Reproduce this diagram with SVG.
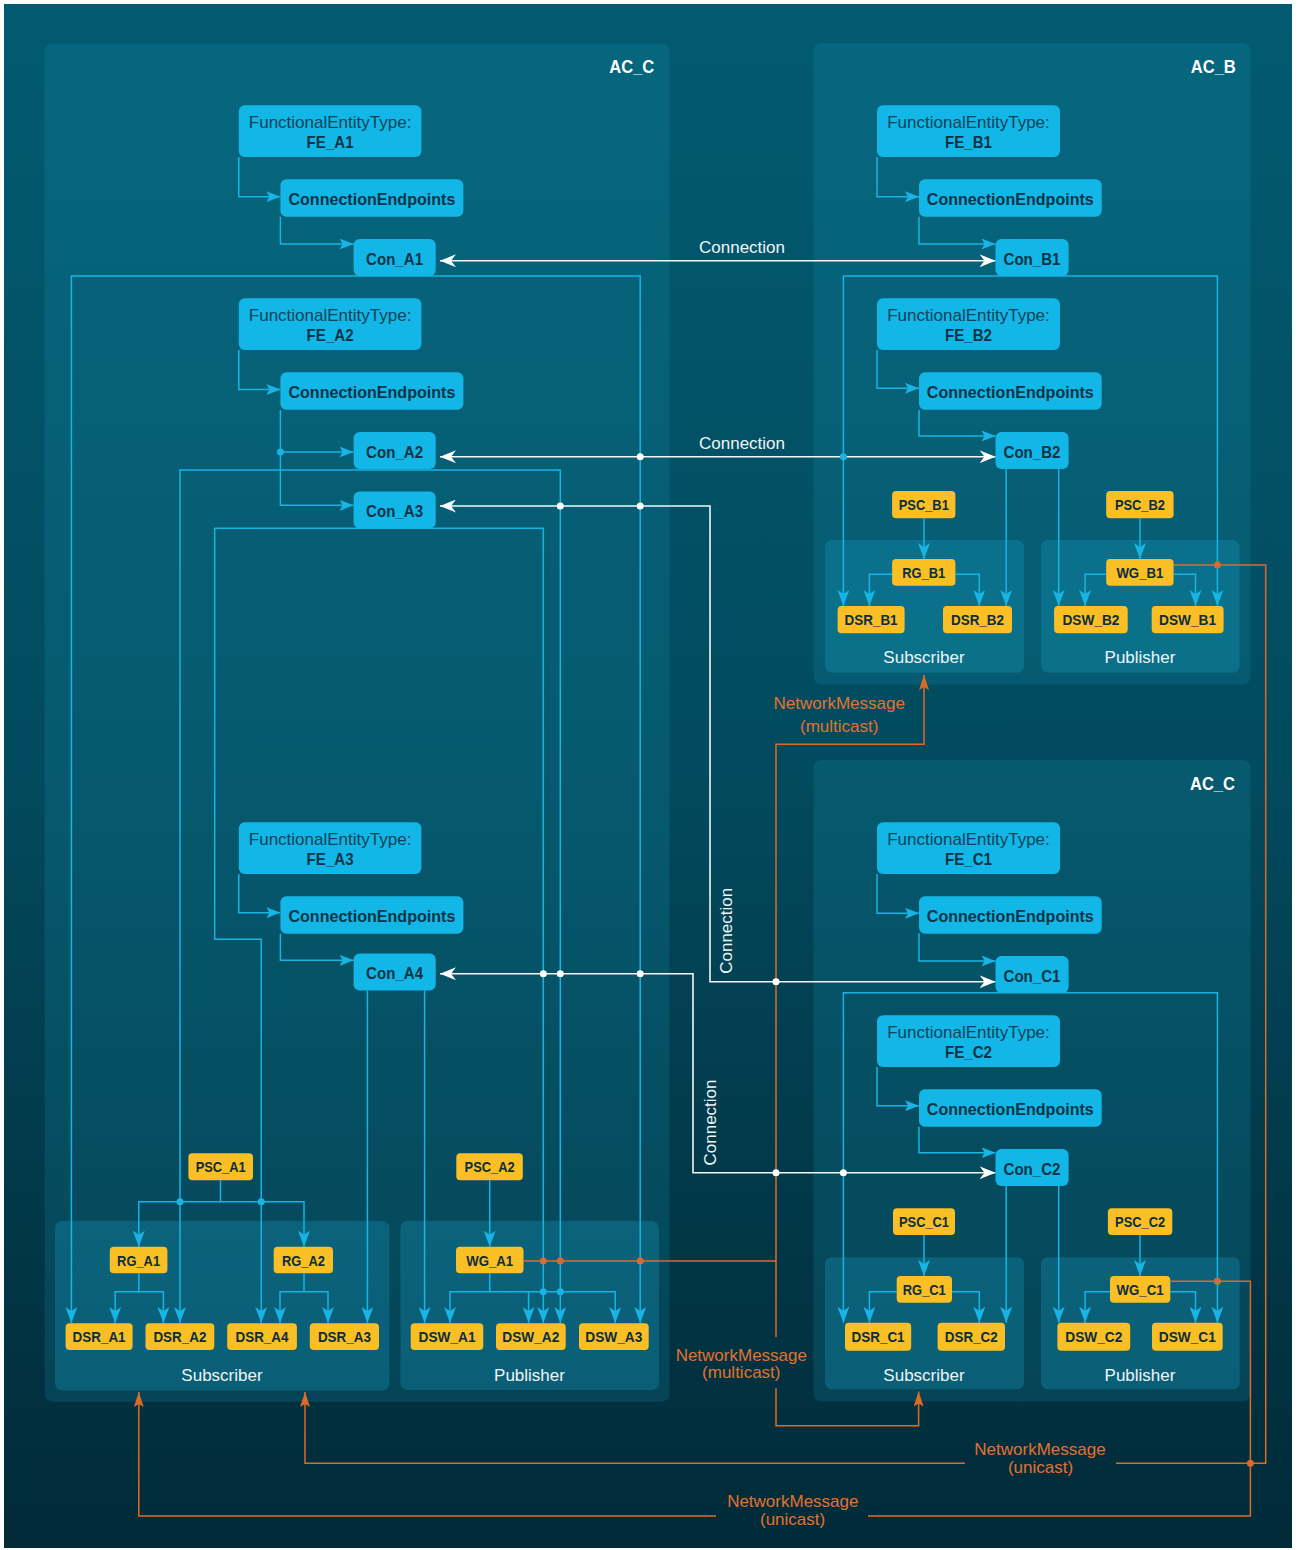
<svg xmlns="http://www.w3.org/2000/svg" width="1298" height="1550" viewBox="0 0 1298 1550">
<defs>
<linearGradient id="bgg" x1="0" y1="0" x2="0" y2="1">
<stop offset="0" stop-color="#025b71"/>
<stop offset="0.5" stop-color="#024a5d"/>
<stop offset="1" stop-color="#012a38"/>
</linearGradient>
<marker id="ab" viewBox="0 0 16 12" refX="16" refY="6" markerWidth="16" markerHeight="12" markerUnits="userSpaceOnUse" orient="auto-start-reverse"><path d="M0,0 L16,6 L0,12 L4,6 Z" fill="#17b4e4"/></marker>
<marker id="abs" viewBox="0 0 14 11" refX="14" refY="5.5" markerWidth="14" markerHeight="11" markerUnits="userSpaceOnUse" orient="auto-start-reverse"><path d="M0,0 L14,5.5 L0,11 L3,5.5 Z" fill="#17b4e4"/></marker>
<marker id="aw" viewBox="0 0 16 13" refX="16" refY="6.5" markerWidth="16" markerHeight="13" markerUnits="userSpaceOnUse" orient="auto-start-reverse"><path d="M0,0 L16,6.5 L0,13 L5,6.5 Z" fill="#ffffff"/></marker>
<marker id="ao" viewBox="0 0 15 10" refX="15" refY="5" markerWidth="15" markerHeight="10" markerUnits="userSpaceOnUse" orient="auto-start-reverse"><path d="M0,0 L15,5 L0,10 L3,5 Z" fill="#de6a28"/></marker>
</defs>
<style>
text{font-family:"Liberation Sans",Arial,sans-serif}
.ac{fill:#1c9fc0;fill-opacity:.18}
.pn{fill:#1aa8cc;fill-opacity:.27}
.bn{fill:#12b6e7}
.yn{fill:#f9bf24}
.cb{fill:none;stroke:#17b4e4;stroke-width:1.5}
.cw{fill:none;stroke:#f2f6f7;stroke-width:1.6}
.co{fill:none;stroke:#de6a28;stroke-width:1.5}
.db{fill:#17b4e4}
.dw{fill:#ffffff}
.do{fill:#de6a28}
.tfe{font-size:17px;fill:#0c4458;text-anchor:middle}
.tb{font-size:17px;font-weight:bold;fill:#0b3446;text-anchor:middle}
.ty{font-size:15.5px;font-weight:bold;fill:#0e2d3a;text-anchor:middle}
.tw{font-size:17px;fill:#eef5f7;text-anchor:middle}
.to{font-size:17px;fill:#e2712f;text-anchor:middle}
.tac{font-size:19px;font-weight:bold;fill:#ffffff;text-anchor:end}
</style>
<rect x="0" y="0" width="1298" height="1550" fill="#ffffff"/>
<rect x="4" y="4" width="1288" height="1544" fill="url(#bgg)"/>

<g id="AC_C_left">
<rect class="ac" x="44.6" y="43.7" width="625" height="1358" rx="8"/>
<text class="tac" x="654.3" y="73" textLength="45" lengthAdjust="spacingAndGlyphs">AC_C</text>
<rect class="pn" x="55" y="1221" width="334.5" height="169.5" rx="7"/>
<rect class="pn" x="400.4" y="1221" width="258.6" height="169" rx="7"/>
<text class="tw" x="222" y="1380.7">Subscriber</text>
<text class="tw" x="529.5" y="1380.7">Publisher</text>
</g>
<g id="AC_B">
<rect class="ac" x="813.5" y="43" width="437" height="641.5" rx="8"/>
<text class="tac" x="1235.8" y="73" textLength="45" lengthAdjust="spacingAndGlyphs">AC_B</text>
<rect class="pn" x="825" y="540" width="199" height="132.7" rx="7"/>
<rect class="pn" x="1041" y="540" width="198.7" height="132.7" rx="7"/>
<text class="tw" x="924" y="663.3">Subscriber</text>
<text class="tw" x="1140" y="663.3">Publisher</text>
</g>
<g id="AC_C_right">
<rect class="ac" x="813.5" y="760" width="437" height="641.5" rx="8"/>
<text class="tac" x="1235" y="790" textLength="45" lengthAdjust="spacingAndGlyphs">AC_C</text>
<rect class="pn" x="825" y="1257.3" width="199" height="132" rx="7"/>
<rect class="pn" x="1041" y="1257.3" width="198.7" height="132" rx="7"/>
<text class="tw" x="924" y="1380.7">Subscriber</text>
<text class="tw" x="1140" y="1380.7">Publisher</text>
</g>

<g id="connectors">
<path class="cb" marker-end="url(#abs)" d="M238.8,157 V196.7 H280.4"/>
<path class="cb" marker-end="url(#abs)" d="M280.4,216.7 V244 H353.6"/>
<path class="cb" marker-end="url(#abs)" d="M238.8,350 V389.5 H280.4"/>
<path class="cb" marker-end="url(#abs)" d="M280.4,410 V452 H353.6"/>
<path class="cb" marker-end="url(#abs)" d="M280.4,452 V505.3 H353.6"/>
<path class="cb" marker-end="url(#abs)" d="M238.8,874 V912.7 H280.4"/>
<path class="cb" marker-end="url(#abs)" d="M280.4,933.7 V960.3 H353.6"/>
<path class="cb" marker-end="url(#abs)" d="M877,157 V196.7 H919"/>
<path class="cb" marker-end="url(#abs)" d="M919,216.7 V244 H995.5"/>
<path class="cb" marker-end="url(#abs)" d="M877,350 V388.3 H919"/>
<path class="cb" marker-end="url(#abs)" d="M919,410 V436 H995.5"/>
<path class="cb" marker-end="url(#abs)" d="M877,874 V913.3 H919"/>
<path class="cb" marker-end="url(#abs)" d="M919,933.3 V961 H995.5"/>
<path class="cb" marker-end="url(#abs)" d="M877,1067 V1105.7 H919"/>
<path class="cb" marker-end="url(#abs)" d="M919,1126.7 V1152.7 H995.5"/>

<path class="cb" marker-start="url(#ab)" marker-end="url(#ab)" d="M71.4,1323 V276 H640.2 V1323"/>
<path class="cb" marker-start="url(#ab)" marker-end="url(#ab)" d="M180,1323 V470 H560.3 V1323"/>
<path class="cb" marker-start="url(#ab)" marker-end="url(#ab)" d="M261.2,1323 V939.3 H214.7 V528.3 H543.3 V1323"/>
<path class="cb" marker-end="url(#ab)" d="M367.4,990.5 V1323"/>
<path class="cb" marker-end="url(#ab)" d="M424.6,990.5 V1323"/>
<path class="cb" d="M220.5,1180.3 V1201.7"/>
<path class="cb" marker-start="url(#ab)" marker-end="url(#ab)" d="M138.8,1246.7 V1201.7 H304 V1246.7"/>
<path class="cb" d="M138.8,1273.3 V1291.7"/>
<path class="cb" marker-start="url(#ab)" marker-end="url(#ab)" d="M115.2,1323 V1291.7 H163.4 V1323"/>
<path class="cb" d="M304,1273.3 V1291.7"/>
<path class="cb" marker-start="url(#ab)" marker-end="url(#ab)" d="M280,1323 V1291.7 H328 V1323"/>
<path class="cb" marker-end="url(#ab)" d="M489.7,1180.3 V1246.7"/>
<path class="cb" d="M489.7,1273.3 V1291.7"/>
<path class="cb" marker-start="url(#ab)" marker-end="url(#ab)" d="M450,1323 V1291.7 H615.2 V1323"/>
<path class="cb" marker-end="url(#ab)" d="M528.6,1291.7 V1323"/>

<path class="cb" marker-start="url(#ab)" marker-end="url(#ab)" d="M843.4,606 V276 H1217.4 V606"/>
<path class="cb" marker-end="url(#ab)" d="M1006.2,469 V606"/>
<path class="cb" marker-end="url(#ab)" d="M1058.7,469 V606"/>
<path class="cb" marker-end="url(#ab)" d="M924,518.3 V559"/>
<path class="cb" marker-end="url(#ab)" d="M1140,518.3 V559"/>
<path class="cb" marker-start="url(#ab)" d="M869.4,606 V574.3 H892.1"/>
<path class="cb" marker-end="url(#ab)" d="M955.4,574.3 H979.3 V606"/>
<path class="cb" marker-start="url(#ab)" d="M1085.1,606 V574.3 H1106.2"/>
<path class="cb" marker-end="url(#ab)" d="M1173.6,574.3 H1195.5 V606"/>

<path class="cb" marker-start="url(#ab)" marker-end="url(#ab)" d="M843.4,1322.7 V992.7 H1217.4 V1322.7"/>
<path class="cb" marker-end="url(#ab)" d="M1006.2,1186 V1322.7"/>
<path class="cb" marker-end="url(#ab)" d="M1058.7,1186 V1322.7"/>
<path class="cb" marker-end="url(#ab)" d="M924,1235 V1276"/>
<path class="cb" marker-end="url(#ab)" d="M1140,1235 V1276"/>
<path class="cb" marker-start="url(#ab)" d="M869.4,1322.7 V1291.7 H896.7"/>
<path class="cb" marker-end="url(#ab)" d="M952,1291.7 H979.3 V1322.7"/>
<path class="cb" marker-start="url(#ab)" d="M1085.1,1322.7 V1291.7 H1110"/>
<path class="cb" marker-end="url(#ab)" d="M1170.3,1291.7 H1195.5 V1322.7"/>

<path class="cw" marker-start="url(#aw)" marker-end="url(#aw)" d="M440,260.7 H995.5"/>
<path class="cw" marker-start="url(#aw)" marker-end="url(#aw)" d="M440,456.7 H995.5"/>
<path class="cw" marker-start="url(#aw)" marker-end="url(#aw)" d="M440,506 H710 V981.7 H995.5"/>
<path class="cw" marker-start="url(#aw)" marker-end="url(#aw)" d="M440,973.7 H693 V1172.7 H995.5"/>
<text class="tw" x="742" y="253">Connection</text>
<text class="tw" x="742" y="449.3">Connection</text>
<text class="tw" transform="translate(732,930.8) rotate(-90)">Connection</text>
<text class="tw" transform="translate(716,1122.5) rotate(-90)">Connection</text>

<path class="co" d="M523.7,1261 H776"/>
<path class="co" marker-end="url(#ao)" d="M776,1337 V744.3 H924 V675"/>
<path class="co" marker-end="url(#ao)" d="M776,1388.3 V1425.7 H918.6 V1391.5"/>
<path class="co" d="M1173.6,565 H1265.7 V1463.3 H1116"/>
<path class="co" marker-end="url(#ao)" d="M965,1463.3 H305 V1392"/>
<path class="co" d="M1170.3,1281.3 H1250.4 V1516 H868"/>
<path class="co" marker-end="url(#ao)" d="M716,1516 H138.8 V1392"/>
<text class="to" x="839.2" y="709.3">NetworkMessage</text>
<text class="to" x="839.2" y="732.3">(multicast)</text>
<text class="to" x="741.3" y="1360.5">NetworkMessage</text>
<text class="to" x="741.3" y="1378">(multicast)</text>
<text class="to" x="1040" y="1455">NetworkMessage</text>
<text class="to" x="1040.5" y="1473.3">(unicast)</text>
<text class="to" x="792.8" y="1506.7">NetworkMessage</text>
<text class="to" x="792.6" y="1525">(unicast)</text>

<circle class="db" cx="280.4" cy="452" r="3.5"/>
<circle class="db" cx="180" cy="1201.7" r="3.5"/>
<circle class="db" cx="261.2" cy="1201.7" r="3.5"/>
<circle class="db" cx="543.3" cy="1291.7" r="3.5"/>
<circle class="db" cx="560.3" cy="1291.7" r="3.5"/>
<circle class="db" cx="843.4" cy="456.7" r="3.5"/>
<circle class="dw" cx="640.2" cy="456.7" r="3.5"/>
<circle class="dw" cx="560.3" cy="506" r="3.5"/>
<circle class="dw" cx="640.2" cy="506" r="3.5"/>
<circle class="dw" cx="776" cy="981.7" r="3.5"/>
<circle class="dw" cx="543.3" cy="973.7" r="3.5"/>
<circle class="dw" cx="560.3" cy="973.7" r="3.5"/>
<circle class="dw" cx="640.2" cy="973.7" r="3.5"/>
<circle class="dw" cx="776" cy="1172.7" r="3.5"/>
<circle class="dw" cx="843.4" cy="1172.7" r="3.5"/>
<circle class="do" cx="543.3" cy="1261" r="3.5"/>
<circle class="do" cx="560.3" cy="1261" r="3.5"/>
<circle class="do" cx="640.2" cy="1261" r="3.5"/>
<circle class="do" cx="1217.4" cy="565" r="3.5"/>
<circle class="do" cx="1217.4" cy="1281.3" r="3.5"/>
<circle class="do" cx="1250.4" cy="1463.3" r="3.5"/>
</g>

<g id="FE_A1"><rect class="bn" x="238.8" y="105.3" width="182.6" height="51.7" rx="6"/><text class="tfe" x="330.1" y="128">FunctionalEntityType:</text><text class="tb" x="330.1" y="148" textLength="47" lengthAdjust="spacingAndGlyphs">FE_A1</text></g>
<g id="CE_A1"><rect class="bn" x="280.4" y="179.3" width="183" height="37.4" rx="6"/><text class="tb" x="371.9" y="204.5" textLength="167" lengthAdjust="spacingAndGlyphs">ConnectionEndpoints</text></g>
<g id="Con_A1"><rect class="bn" x="353.6" y="239" width="82.1" height="37" rx="6"/><text class="tb" x="394.6" y="264.5" textLength="57" lengthAdjust="spacingAndGlyphs">Con_A1</text></g>
<g id="FE_A2"><rect class="bn" x="238.8" y="298.3" width="182.6" height="51.7" rx="6"/><text class="tfe" x="330.1" y="321">FunctionalEntityType:</text><text class="tb" x="330.1" y="341" textLength="47" lengthAdjust="spacingAndGlyphs">FE_A2</text></g>
<g id="CE_A2"><rect class="bn" x="280.4" y="372.3" width="183" height="37.4" rx="6"/><text class="tb" x="371.9" y="397.5" textLength="167" lengthAdjust="spacingAndGlyphs">ConnectionEndpoints</text></g>
<g id="Con_A2"><rect class="bn" x="353.6" y="432" width="82.1" height="37" rx="6"/><text class="tb" x="394.6" y="457.5" textLength="57" lengthAdjust="spacingAndGlyphs">Con_A2</text></g>
<g id="Con_A3"><rect class="bn" x="353.6" y="491.5" width="82.1" height="37" rx="6"/><text class="tb" x="394.6" y="517" textLength="57" lengthAdjust="spacingAndGlyphs">Con_A3</text></g>
<g id="FE_A3"><rect class="bn" x="238.8" y="822.3" width="182.6" height="51.7" rx="6"/><text class="tfe" x="330.1" y="845">FunctionalEntityType:</text><text class="tb" x="330.1" y="865" textLength="47" lengthAdjust="spacingAndGlyphs">FE_A3</text></g>
<g id="CE_A3"><rect class="bn" x="280.4" y="896.3" width="183" height="37.4" rx="6"/><text class="tb" x="371.9" y="921.5" textLength="167" lengthAdjust="spacingAndGlyphs">ConnectionEndpoints</text></g>
<g id="Con_A4"><rect class="bn" x="353.6" y="953.5" width="82.1" height="37" rx="6"/><text class="tb" x="394.6" y="979" textLength="57" lengthAdjust="spacingAndGlyphs">Con_A4</text></g>

<g id="FE_B1"><rect class="bn" x="877" y="105.3" width="183" height="51.7" rx="6"/><text class="tfe" x="968.5" y="128">FunctionalEntityType:</text><text class="tb" x="968.5" y="148" textLength="47" lengthAdjust="spacingAndGlyphs">FE_B1</text></g>
<g id="CE_B1"><rect class="bn" x="919" y="179.3" width="182.7" height="37.4" rx="6"/><text class="tb" x="1010.3" y="204.5" textLength="167" lengthAdjust="spacingAndGlyphs">ConnectionEndpoints</text></g>
<g id="Con_B1"><rect class="bn" x="995.5" y="239" width="73.1" height="37" rx="6"/><text class="tb" x="1032" y="264.5" textLength="57" lengthAdjust="spacingAndGlyphs">Con_B1</text></g>
<g id="FE_B2"><rect class="bn" x="877" y="298.3" width="183" height="51.7" rx="6"/><text class="tfe" x="968.5" y="321">FunctionalEntityType:</text><text class="tb" x="968.5" y="341" textLength="47" lengthAdjust="spacingAndGlyphs">FE_B2</text></g>
<g id="CE_B2"><rect class="bn" x="919" y="372.3" width="182.7" height="37.4" rx="6"/><text class="tb" x="1010.3" y="397.5" textLength="167" lengthAdjust="spacingAndGlyphs">ConnectionEndpoints</text></g>
<g id="Con_B2"><rect class="bn" x="995.5" y="432" width="73.1" height="37" rx="6"/><text class="tb" x="1032" y="457.5" textLength="57" lengthAdjust="spacingAndGlyphs">Con_B2</text></g>

<g id="FE_C1"><rect class="bn" x="877" y="822.3" width="183" height="51.7" rx="6"/><text class="tfe" x="968.5" y="845">FunctionalEntityType:</text><text class="tb" x="968.5" y="865" textLength="47" lengthAdjust="spacingAndGlyphs">FE_C1</text></g>
<g id="CE_C1"><rect class="bn" x="919" y="896.3" width="182.7" height="37.4" rx="6"/><text class="tb" x="1010.3" y="921.5" textLength="167" lengthAdjust="spacingAndGlyphs">ConnectionEndpoints</text></g>
<g id="Con_C1"><rect class="bn" x="995.5" y="956" width="73.1" height="37" rx="6"/><text class="tb" x="1032" y="981.5" textLength="57" lengthAdjust="spacingAndGlyphs">Con_C1</text></g>
<g id="FE_C2"><rect class="bn" x="877" y="1015.3" width="183" height="51.7" rx="6"/><text class="tfe" x="968.5" y="1038">FunctionalEntityType:</text><text class="tb" x="968.5" y="1058" textLength="47" lengthAdjust="spacingAndGlyphs">FE_C2</text></g>
<g id="CE_C2"><rect class="bn" x="919" y="1089.3" width="182.7" height="37.4" rx="6"/><text class="tb" x="1010.3" y="1114.5" textLength="167" lengthAdjust="spacingAndGlyphs">ConnectionEndpoints</text></g>
<g id="Con_C2"><rect class="bn" x="995.5" y="1149" width="73.1" height="37" rx="6"/><text class="tb" x="1032" y="1174.5" textLength="57" lengthAdjust="spacingAndGlyphs">Con_C2</text></g>

<g id="PSC_A1"><rect class="yn" x="188.4" y="1153.3" width="64.6" height="27" rx="4"/><text class="ty" x="220.7" y="1172.3" textLength="50" lengthAdjust="spacingAndGlyphs">PSC_A1</text></g>
<g id="PSC_A2"><rect class="yn" x="456.3" y="1153.3" width="66.5" height="27" rx="4"/><text class="ty" x="489.6" y="1172.3" textLength="50" lengthAdjust="spacingAndGlyphs">PSC_A2</text></g>
<g id="RG_A1"><rect class="yn" x="109.8" y="1246.7" width="57.6" height="26.6" rx="4"/><text class="ty" x="138.6" y="1265.6" textLength="43" lengthAdjust="spacingAndGlyphs">RG_A1</text></g>
<g id="RG_A2"><rect class="yn" x="273.7" y="1246.7" width="59.3" height="26.6" rx="4"/><text class="ty" x="303.4" y="1265.6" textLength="43" lengthAdjust="spacingAndGlyphs">RG_A2</text></g>
<g id="WG_A1"><rect class="yn" x="456" y="1246.7" width="67.5" height="26.6" rx="4"/><text class="ty" x="489.7" y="1265.6" textLength="47" lengthAdjust="spacingAndGlyphs">WG_A1</text></g>
<g id="DSR_A1"><rect class="yn" x="65.6" y="1323.3" width="67" height="26.7" rx="4"/><text class="ty" x="99.1" y="1342.3" textLength="53" lengthAdjust="spacingAndGlyphs">DSR_A1</text></g>
<g id="DSR_A2"><rect class="yn" x="145.5" y="1323.3" width="68.8" height="26.7" rx="4"/><text class="ty" x="179.9" y="1342.3" textLength="53" lengthAdjust="spacingAndGlyphs">DSR_A2</text></g>
<g id="DSR_A4"><rect class="yn" x="227.2" y="1323.3" width="69.7" height="26.7" rx="4"/><text class="ty" x="262" y="1342.3" textLength="53" lengthAdjust="spacingAndGlyphs">DSR_A4</text></g>
<g id="DSR_A3"><rect class="yn" x="309.8" y="1323.3" width="69.2" height="26.7" rx="4"/><text class="ty" x="344.4" y="1342.3" textLength="53" lengthAdjust="spacingAndGlyphs">DSR_A3</text></g>
<g id="DSW_A1"><rect class="yn" x="410.7" y="1323.3" width="72.6" height="26.7" rx="4"/><text class="ty" x="447" y="1342.3" textLength="57" lengthAdjust="spacingAndGlyphs">DSW_A1</text></g>
<g id="DSW_A2"><rect class="yn" x="496" y="1323.3" width="69.7" height="26.7" rx="4"/><text class="ty" x="530.8" y="1342.3" textLength="57" lengthAdjust="spacingAndGlyphs">DSW_A2</text></g>
<g id="DSW_A3"><rect class="yn" x="579" y="1323.3" width="69.7" height="26.7" rx="4"/><text class="ty" x="613.8" y="1342.3" textLength="57" lengthAdjust="spacingAndGlyphs">DSW_A3</text></g>

<g id="PSC_B1"><rect class="yn" x="892.1" y="491" width="63.3" height="27.3" rx="4"/><text class="ty" x="923.8" y="510.2" textLength="50" lengthAdjust="spacingAndGlyphs">PSC_B1</text></g>
<g id="PSC_B2"><rect class="yn" x="1106.2" y="491" width="67.4" height="27.3" rx="4"/><text class="ty" x="1139.9" y="510.2" textLength="50" lengthAdjust="spacingAndGlyphs">PSC_B2</text></g>
<g id="RG_B1"><rect class="yn" x="892.1" y="559" width="63.3" height="26.7" rx="4"/><text class="ty" x="923.8" y="578" textLength="43" lengthAdjust="spacingAndGlyphs">RG_B1</text></g>
<g id="WG_B1"><rect class="yn" x="1106.2" y="559" width="67.4" height="26.7" rx="4"/><text class="ty" x="1139.9" y="578" textLength="47" lengthAdjust="spacingAndGlyphs">WG_B1</text></g>
<g id="DSR_B1"><rect class="yn" x="837.6" y="606" width="67" height="27.3" rx="4"/><text class="ty" x="871.1" y="625.3" textLength="53" lengthAdjust="spacingAndGlyphs">DSR_B1</text></g>
<g id="DSR_B2"><rect class="yn" x="943" y="606" width="69" height="27.3" rx="4"/><text class="ty" x="977.5" y="625.3" textLength="53" lengthAdjust="spacingAndGlyphs">DSR_B2</text></g>
<g id="DSW_B2"><rect class="yn" x="1054.1" y="606" width="73.6" height="27.3" rx="4"/><text class="ty" x="1090.9" y="625.3" textLength="57" lengthAdjust="spacingAndGlyphs">DSW_B2</text></g>
<g id="DSW_B1"><rect class="yn" x="1151.7" y="606" width="71.9" height="27.3" rx="4"/><text class="ty" x="1187.6" y="625.3" textLength="57" lengthAdjust="spacingAndGlyphs">DSW_B1</text></g>

<g id="PSC_C1"><rect class="yn" x="893" y="1208.3" width="62" height="26.7" rx="4"/><text class="ty" x="924" y="1227.3" textLength="50" lengthAdjust="spacingAndGlyphs">PSC_C1</text></g>
<g id="PSC_C2"><rect class="yn" x="1107.9" y="1208.3" width="64.4" height="26.7" rx="4"/><text class="ty" x="1140.1" y="1227.3" textLength="50" lengthAdjust="spacingAndGlyphs">PSC_C2</text></g>
<g id="RG_C1"><rect class="yn" x="896.7" y="1276" width="55.3" height="26.7" rx="4"/><text class="ty" x="924.3" y="1295" textLength="43" lengthAdjust="spacingAndGlyphs">RG_C1</text></g>
<g id="WG_C1"><rect class="yn" x="1110" y="1276" width="60.3" height="26.7" rx="4"/><text class="ty" x="1140.1" y="1295" textLength="47" lengthAdjust="spacingAndGlyphs">WG_C1</text></g>
<g id="DSR_C1"><rect class="yn" x="845" y="1322.7" width="66.2" height="28" rx="4"/><text class="ty" x="878.1" y="1342.3" textLength="53" lengthAdjust="spacingAndGlyphs">DSR_C1</text></g>
<g id="DSR_C2"><rect class="yn" x="937.6" y="1322.7" width="67.4" height="28" rx="4"/><text class="ty" x="971.3" y="1342.3" textLength="53" lengthAdjust="spacingAndGlyphs">DSR_C2</text></g>
<g id="DSW_C2"><rect class="yn" x="1057.4" y="1322.7" width="72.8" height="28" rx="4"/><text class="ty" x="1093.8" y="1342.3" textLength="57" lengthAdjust="spacingAndGlyphs">DSW_C2</text></g>
<g id="DSW_C1"><rect class="yn" x="1152" y="1322.7" width="70.7" height="28" rx="4"/><text class="ty" x="1187.3" y="1342.3" textLength="57" lengthAdjust="spacingAndGlyphs">DSW_C1</text></g>
</svg>
